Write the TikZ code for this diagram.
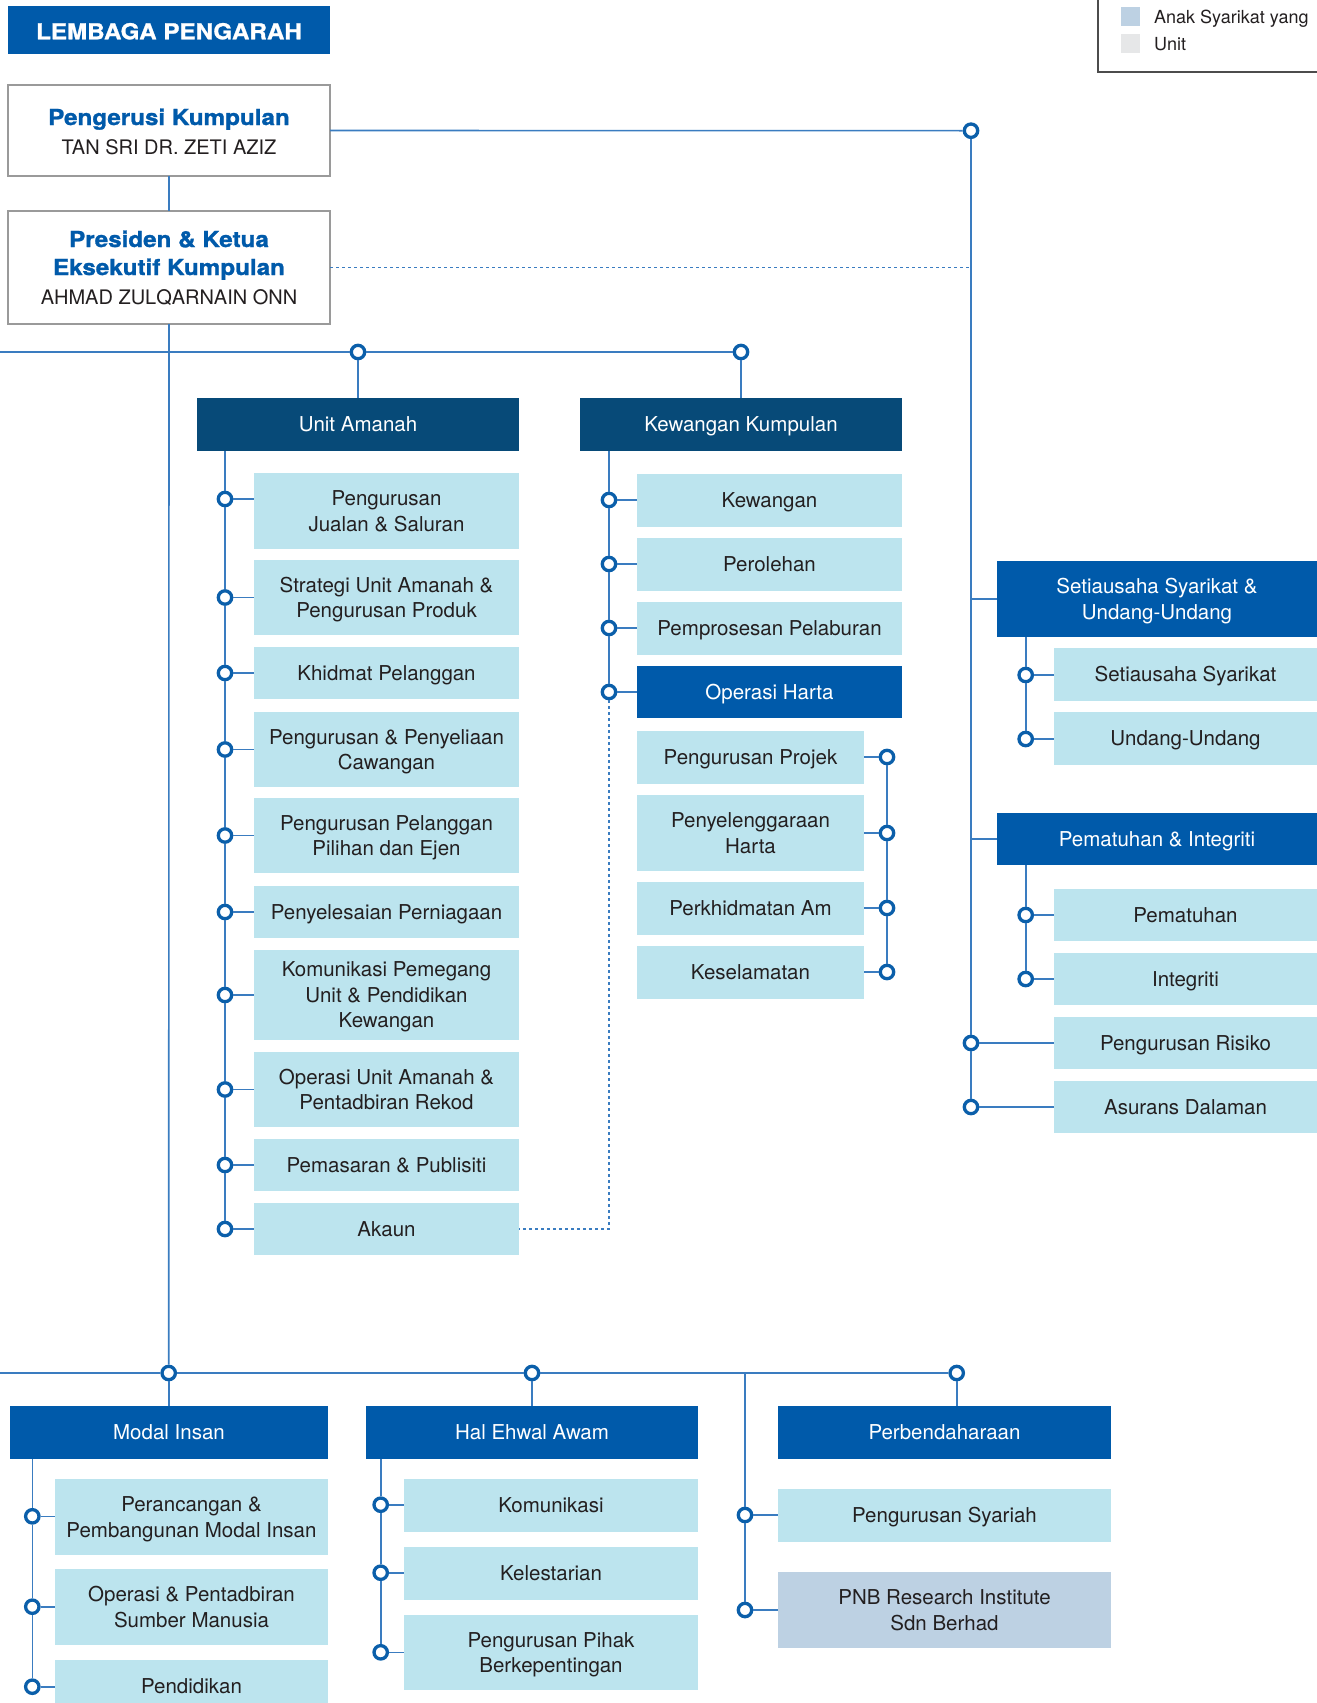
\documentclass[tikz,border=0pt]{standalone}
\usepackage{fontspec}
\setmainfont{TeX Gyre Heros}
\newfontfamily\heavyfont{TeX Gyre Heros}[FakeStretch=1.1, FakeBold=1.2]
\definecolor{cBlue}{HTML}{005AAA}
\definecolor{cNavy}{HTML}{074A78}
\definecolor{cLight}{HTML}{BCE4EE}
\definecolor{cPNB}{HTML}{BDD1E3}
\definecolor{cGray}{HTML}{E6E7E8}
\definecolor{cLine}{HTML}{3A7CC0}
\definecolor{cRing}{HTML}{0B5FAA}
\definecolor{cText}{HTML}{231F20}
\definecolor{cBorder}{HTML}{9A9A9A}
% box with no text
\newcommand\mybox[6]{\node[#6, minimum width={(#4)-(#2)}, minimum height={(#5)-(#3)}] (#1) at ({((#2)+(#4))/2},{((#3)+(#5))/2}) {};}
% box with one, two, three lines of text
\newcommand\bA[7]{\mybox{#1}{#2}{#3}{#4}{#5}{#6}
  \node[#6T] (#1-t1) at ([yshift=-7.35pt]#1.center) {#7};}
\newcommand\bB[8]{\mybox{#1}{#2}{#3}{#4}{#5}{#6}
  \node[#6T] (#1-t1) at ([yshift=5.4pt]#1.center) {#7};
  \node[#6T] (#1-t2) at ([yshift=-20.1pt]#1.center) {#8};}
\newcommand\bC[9]{\mybox{#1}{#2}{#3}{#4}{#5}{#6}
  \node[#6T] (#1-t1) at ([yshift=18.15pt]#1.center) {#7};
  \node[#6T] (#1-t2) at ([yshift=-7.35pt]#1.center) {#8};
  \node[#6T] (#1-t3) at ([yshift=-32.85pt]#1.center) {#9};}
\newcommand\myring[3]{\node[ring] (#1) at (#2,#3) {};}
\begin{document}
\begin{tikzpicture}[x=1pt,y=-1pt,
  basebox/.style={inner sep=0pt, outer sep=0pt},
  lb/.style={basebox, fill=cLight},
  pnbbox/.style={basebox, fill=cPNB},
  hd/.style={basebox, fill=cBlue},
  nv/.style={basebox, fill=cNavy},
  tx/.style={anchor=base, inner sep=0pt, font=\fontsize{20.5}{25.5}\selectfont},
  lbT/.style={tx, text=cText},
  pnbboxT/.style={tx, text=cText},
  hdT/.style={tx, text=white},
  nvT/.style={tx, text=white},
  topbox/.style={basebox, fill=white, draw=cBorder, line width=1.5pt},
  ring/.style={circle, draw=cRing, fill=white, line width=3.3pt, minimum size=13.4pt, inner sep=0pt, outer sep=1.6pt},
  conn/.style={draw=cLine, line width=1.6pt},
  dotline/.style={draw=cLine, line width=1.6pt, dash pattern=on 3pt off 3pt},
  boldblue/.style={anchor=base, inner sep=0pt, text=cBlue, font=\fontsize{22}{28}\selectfont\heavyfont\bfseries},
  plain/.style={anchor=base, inner sep=0pt, text=cText, font=\fontsize{20}{25}\selectfont},
  legtext/.style={anchor=base west, inner sep=0pt, text=cText, font=\fontsize{18}{22}\selectfont}
]
\useasboundingbox (0,0) rectangle (1317,1703);
\clip (0,0) rectangle (1317,1703);

% legend
\draw[draw=black!70, line width=1.5pt] (1098,-10) rectangle (1330,72);
\node[basebox, fill=cPNB, minimum width=19, minimum height=19] (sw1) at (1130.5,16.3) {};
\node[basebox, fill=cGray, minimum width=19, minimum height=19] (sw2) at (1130.5,43.3) {};
\node[legtext] (lg1) at (1154,23) {Anak Syarikat yang};
\node[legtext] (lg2) at (1154,50) {Unit};

% top
\mybox{lem}{8}{6}{330}{54}{hd}
\node[anchor=base, inner sep=0pt, text=white, font=\fontsize{22}{26}\selectfont\heavyfont\bfseries] (lemT) at (169,39.3) {LEMBAGA PENGARAH};
\mybox{peng}{8}{85}{330}{176}{topbox}
\node[boldblue] (pengT) at (169,125) {Pengerusi Kumpulan};
\node[plain] (pengN) at (169,154) {TAN SRI DR. ZETI AZIZ};
\mybox{pres}{8}{211}{330}{324}{topbox}
\node[boldblue] (presT1) at (169,247) {Presiden \& Ketua};
\node[boldblue] (presT2) at (169,275) {Eksekutif Kumpulan};
\node[plain] (presN) at (169,304) {AHMAD ZULQARNAIN ONN};

% Unit Amanah
\bA{ua}{197}{398}{519}{451}{nv}{Unit Amanah}
\bB{a1}{254}{473}{519}{549}{lb}{Pengurusan}{Jualan \& Saluran}
\bB{a2}{254}{560}{519}{635}{lb}{Strategi Unit Amanah \&}{Pengurusan Produk}
\bA{a3}{254}{647}{519}{699}{lb}{Khidmat Pelanggan}
\bB{a4}{254}{712}{519}{787}{lb}{Pengurusan \& Penyeliaan}{Cawangan}
\bB{a5}{254}{798}{519}{873}{lb}{Pengurusan Pelanggan}{Pilihan dan Ejen}
\bA{a6}{254}{886}{519}{938}{lb}{Penyelesaian Perniagaan}
\bC{a7}{254}{950}{519}{1040}{lb}{Komunikasi Pemegang}{Unit \& Pendidikan}{Kewangan}
\bB{a8}{254}{1052}{519}{1127}{lb}{Operasi Unit Amanah \&}{Pentadbiran Rekod}
\bA{a9}{254}{1139}{519}{1191}{lb}{Pemasaran \& Publisiti}
\bA{a10}{254}{1203}{519}{1255}{lb}{Akaun}

% Kewangan Kumpulan
\bA{kk}{580}{398}{902}{451}{nv}{Kewangan Kumpulan}
\bA{k1}{637}{474}{902}{527}{lb}{Kewangan}
\bA{k2}{637}{538}{902}{591}{lb}{Perolehan}
\bA{k3}{637}{602}{902}{655}{lb}{Pemprosesan Pelaburan}
\bA{k4}{637}{666}{902}{718}{hd}{Operasi Harta}
\bA{h1}{637}{731}{864}{784}{lb}{Pengurusan Projek}
\bB{h2}{637}{795}{864}{871}{lb}{Penyelenggaraan}{Harta}
\bA{h3}{637}{882}{864}{935}{lb}{Perkhidmatan Am}
\bA{h4}{637}{946}{864}{999}{lb}{Keselamatan}

% right side
\bB{s0}{997}{561}{1317}{637}{hd}{Setiausaha Syarikat \&}{Undang-Undang}
\bA{s1}{1054}{648}{1317}{701}{lb}{Setiausaha Syarikat}
\bA{s2}{1054}{712}{1317}{765}{lb}{Undang-Undang}
\bA{p0}{997}{813}{1317}{865}{hd}{Pematuhan \& Integriti}
\bA{p1}{1054}{889}{1317}{941}{lb}{Pematuhan}
\bA{p2}{1054}{953}{1317}{1005}{lb}{Integriti}
\bA{r1}{1054}{1017}{1317}{1069}{lb}{Pengurusan Risiko}
\bA{r2}{1054}{1081}{1317}{1133}{lb}{Asurans Dalaman}

% bottom
\bA{mi}{10}{1406}{328}{1459}{hd}{Modal Insan}
\bB{m1}{55}{1479}{328}{1555}{lb}{Perancangan \&}{Pembangunan Modal Insan}
\bB{m2}{55}{1569}{328}{1645}{lb}{Operasi \& Pentadbiran}{Sumber Manusia}
\bA{m3}{55}{1660}{328}{1712}{lb}{Pendidikan}
\bA{he}{366}{1406}{698}{1459}{hd}{Hal Ehwal Awam}
\bA{e1}{404}{1479}{698}{1532}{lb}{Komunikasi}
\bA{e2}{404}{1547}{698}{1600}{lb}{Kelestarian}
\bB{e3}{404}{1615}{698}{1690}{lb}{Pengurusan Pihak}{Berkepentingan}
\bA{pb}{778}{1406}{1111}{1459}{hd}{Perbendaharaan}
\bA{b1}{778}{1489}{1111}{1542}{lb}{Pengurusan Syariah}
\bB{b2}{778}{1572}{1111}{1648}{pnbbox}{PNB Research Institute}{Sdn Berhad}

% rings
\myring{cT}{971}{130.7}
\myring{cU}{358}{352}
\myring{cK}{741}{352}
\myring{ra1}{225}{499}
\myring{ra2}{225}{597.5}
\myring{ra3}{225}{673}
\myring{ra4}{225}{749.5}
\myring{ra5}{225}{835.5}
\myring{ra6}{225}{912}
\myring{ra7}{225}{995}
\myring{ra8}{225}{1089.5}
\myring{ra9}{225}{1165}
\myring{ra10}{225}{1229}
\myring{rk1}{609}{500}
\myring{rk2}{609}{564}
\myring{rk3}{609}{628}
\myring{rk4}{609}{692}
\myring{rh1}{887}{757}
\myring{rh2}{887}{833}
\myring{rh3}{887}{908}
\myring{rh4}{887}{972}
\myring{rs1}{1025.7}{675}
\myring{rs2}{1025.7}{739}
\myring{rp1}{1025.7}{915}
\myring{rp2}{1025.7}{979}
\myring{rr1}{971}{1043}
\myring{rr2}{971}{1107}
\myring{cM}{168.7}{1373}
\myring{cH}{532}{1373}
\myring{cP}{956.7}{1373}
\myring{rm1}{32.3}{1516.3}
\myring{rm2}{32.3}{1606.7}
\myring{rm3}{32.3}{1686.7}
\myring{re1}{380.7}{1504.7}
\myring{re2}{380.7}{1572.7}
\myring{re3}{380.7}{1652.3}
\myring{rb1}{745}{1515}
\myring{rb2}{745}{1610}

\coordinate (L1) at (0,352);
\coordinate (L2) at (0,1373);
\coordinate (J) at (745,1373);

% connectors top
\draw[conn] (peng.east) -- (cT);
\draw[conn] (peng.south) -- (pres.north);
\draw[dotline] (pres.east) -- (pres.east -| cT);
\draw[conn] (pres.south) -- (cM);
\draw[conn] (L1) -- (cU) -- (cK);
\draw[conn] (cU) -- (ua.north);
\draw[conn] (cK) -- (kk.north);

% Unit Amanah
\draw[conn] (ua.south -| ra1) -- (ra1) -- (ra2) -- (ra3) -- (ra4) -- (ra5) -- (ra6) -- (ra7) -- (ra8) -- (ra9) -- (ra10);
\foreach \i in {1,...,10} { \draw[conn] (ra\i) -- (ra\i -| a\i.west); }

% Kewangan
\draw[conn] (kk.south -| rk1) -- (rk1) -- (rk2) -- (rk3) -- (rk4);
\foreach \i in {1,...,4} { \draw[conn] (rk\i) -- (rk\i -| k\i.west); }
\draw[dotline] (rk4) -- (rk4 |- a10.east) -- (a10.east);
\draw[conn] (rh1) -- (rh2) -- (rh3) -- (rh4);
\foreach \i in {1,...,4} { \draw[conn] (rh\i) -- (rh\i -| h\i.east); }

% right
\draw[conn] (cT) -- (rr1) -- (rr2);
\draw[conn] (s0.west) -- (s0.west -| cT);
\draw[conn] (p0.west) -- (p0.west -| cT);
\draw[conn] (rr1) -- (rr1 -| r1.west);
\draw[conn] (rr2) -- (rr2 -| r2.west);
\draw[conn] (s0.south -| rs1) -- (rs1) -- (rs2);
\draw[conn] (rs1) -- (rs1 -| s1.west);
\draw[conn] (rs2) -- (rs2 -| s2.west);
\draw[conn] (p0.south -| rp1) -- (rp1) -- (rp2);
\draw[conn] (rp1) -- (rp1 -| p1.west);
\draw[conn] (rp2) -- (rp2 -| p2.west);

% bottom
\draw[conn] (L2) -- (cM) -- (cH) -- (cP);
\draw[conn] (cM) -- (cM |- mi.north);
\draw[conn] (cH) -- (cH |- he.north);
\draw[conn] (cP) -- (cP |- pb.north);
\draw[conn] (mi.south -| rm1) -- (rm1) -- (rm2) -- (rm3);
\foreach \i in {1,2,3} { \draw[conn] (rm\i) -- (rm\i -| m\i.west); }
\draw[conn] (he.south -| re1) -- (re1) -- (re2) -- (re3);
\foreach \i in {1,2,3} { \draw[conn] (re\i) -- (re\i -| e\i.west); }
\draw[conn] (J) -- (rb1) -- (rb2);
\foreach \i in {1,2} { \draw[conn] (rb\i) -- (rb\i -| b\i.west); }
\end{tikzpicture}
\end{document}
